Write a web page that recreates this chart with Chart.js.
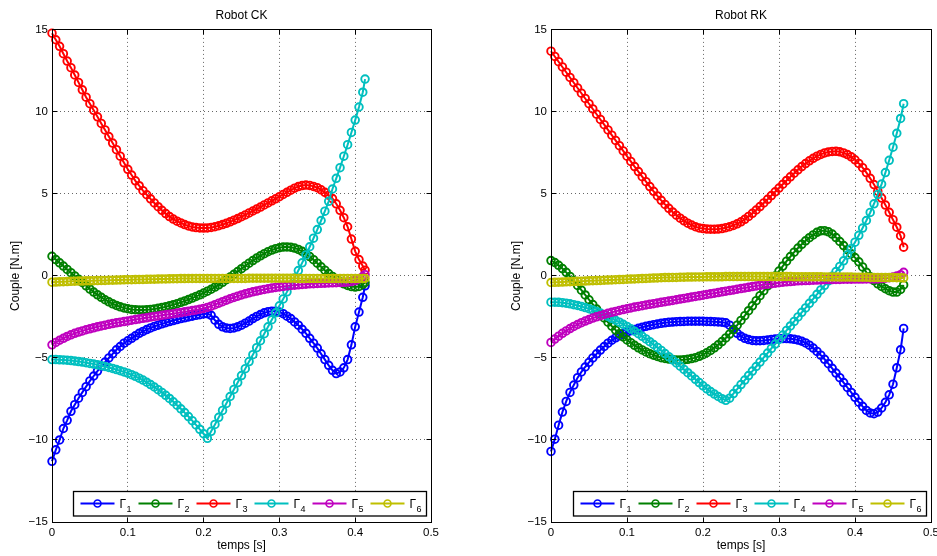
<!DOCTYPE html>
<html>
<head>
<meta charset="utf-8">
<script src="https://cdn.jsdelivr.net/npm/chart.js@4.4.1/dist/chart.umd.min.js"></script>
<style>
  html, body { margin: 0; padding: 0; background: #fff; }
  #wrap { position: relative; width: 937px; height: 556px; overflow: hidden; }
  #ck { position: absolute; left: 0; top: 0; }
  #rk { position: absolute; left: 501px; top: 0; }
</style>
</head>
<body>
<div id="wrap">
  <canvas id="ck" width="468" height="556"></canvas>
  <canvas id="rk" width="436" height="556"></canvas>
</div>
<script>
// Couples articulaires, robot CK (gauche) et robot RK (droite)

const legendLabels = ['Γ1', 'Γ2', 'Γ3', 'Γ4', 'Γ5', 'Γ6'];
const xTickValues = [0, 0.1, 0.2, 0.3, 0.4, 0.5];
const xTickLabels = ['0', '0.1', '0.2', '0.3', '0.4', '0.5'];
const yTickValues = [-15, -10, -5, 0, 5, 10, 15];
const yTickLabels = ['\u221215', '\u221210', '\u22125', '0', '5', '10', '15'];

// --- Robot CK ---
const timeCK = [
  0, 0.005, 0.01, 0.015, 0.02, 0.025, 0.03, 0.035, 0.04, 0.045,
  0.05, 0.055, 0.06, 0.065, 0.07, 0.075, 0.08, 0.085, 0.09, 0.095,
  0.1, 0.105, 0.11, 0.115, 0.12, 0.125, 0.13, 0.135, 0.14, 0.145,
  0.15, 0.155, 0.16, 0.165, 0.17, 0.175, 0.18, 0.185, 0.19, 0.195,
  0.2, 0.205, 0.21, 0.215, 0.22, 0.225, 0.23, 0.235, 0.24, 0.245,
  0.25, 0.255, 0.26, 0.265, 0.27, 0.275, 0.28, 0.285, 0.29, 0.295,
  0.3, 0.305, 0.31, 0.315, 0.32, 0.325, 0.33, 0.335, 0.34, 0.345,
  0.35, 0.355, 0.36, 0.365, 0.37, 0.375, 0.38, 0.385, 0.39, 0.395,
  0.4, 0.405, 0.41, 0.413
];
const gamma1CK = [
  -11.3, -10.6, -10.0, -9.3, -8.8, -8.25, -7.85, -7.45, -7.1, -6.75,
  -6.4, -6.1, -5.8, -5.5, -5.25, -5.0, -4.75, -4.5, -4.3, -4.1,
  -3.95, -3.8, -3.65, -3.5, -3.38, -3.27, -3.17, -3.08, -3.0, -2.92,
  -2.85, -2.78, -2.72, -2.66, -2.6, -2.55, -2.5, -2.45, -2.4, -2.36,
  -2.32, -2.3, -2.4, -2.7, -2.95, -3.1, -3.18, -3.2, -3.17, -3.1,
  -3.0, -2.88, -2.75, -2.6, -2.47, -2.35, -2.25, -2.18, -2.15, -2.15,
  -2.2, -2.3, -2.45, -2.6, -2.8, -3.0, -3.25, -3.5, -3.8, -4.1,
  -4.4, -4.75, -5.1, -5.45, -5.75, -5.95, -5.85, -5.6, -5.1, -4.2,
  -3.1, -2.2, -1.3, -0.6
];
const gamma2CK = [
  1.2, 1.0, 0.8, 0.6, 0.4, 0.2, 0.0, -0.2, -0.4, -0.6,
  -0.8, -0.98, -1.15, -1.3, -1.45, -1.58, -1.7, -1.8, -1.88, -1.95,
  -2.0, -2.04, -2.06, -2.07, -2.07, -2.06, -2.04, -2.01, -1.97, -1.93,
  -1.88, -1.82, -1.76, -1.69, -1.61, -1.53, -1.44, -1.35, -1.25, -1.15,
  -1.04, -0.93, -0.81, -0.68, -0.54, -0.39, -0.23, -0.07, 0.1, 0.27,
  0.44, 0.61, 0.78, 0.94, 1.09, 1.23, 1.36, 1.48, 1.58, 1.66,
  1.72, 1.76, 1.77, 1.75, 1.7, 1.62, 1.5, 1.35, 1.18, 0.99,
  0.78, 0.56, 0.35, 0.15, -0.03, -0.2, -0.35, -0.48, -0.58, -0.65,
  -0.68, -0.64, -0.52, -0.4
];
const gamma3CK = [
  14.8, 14.4, 14.0, 13.55, 13.1, 12.7, 12.25, 11.8, 11.35, 10.9,
  10.5, 10.1, 9.7, 9.3, 8.9, 8.5, 8.1, 7.7, 7.3, 6.9,
  6.5, 6.15, 5.8, 5.5, 5.2, 4.95, 4.7, 4.45, 4.22, 4.0,
  3.8, 3.62, 3.47, 3.34, 3.23, 3.13, 3.05, 2.99, 2.95, 2.93,
  2.92, 2.93, 2.96, 3.0, 3.06, 3.13, 3.21, 3.3, 3.4, 3.5,
  3.61, 3.72, 3.84, 3.96, 4.08, 4.2, 4.33, 4.45, 4.58, 4.7,
  4.83, 4.97, 5.1, 5.23, 5.35, 5.45, 5.51, 5.54, 5.52, 5.46,
  5.38, 5.25, 5.1, 4.92, 4.72, 4.4, 4.0, 3.55, 3.0, 2.25,
  1.5, 1.0, 0.6, 0.35
];
const gamma4CK = [
  -5.1, -5.1, -5.11, -5.12, -5.14, -5.16, -5.19, -5.22, -5.25, -5.29,
  -5.33, -5.37, -5.42, -5.47, -5.52, -5.58, -5.64, -5.71, -5.78, -5.85,
  -5.93, -6.02, -6.12, -6.23, -6.35, -6.48, -6.62, -6.77, -6.93, -7.1,
  -7.28, -7.47, -7.67, -7.88, -8.1, -8.33, -8.57, -8.82, -9.08, -9.35,
  -9.62, -9.9, -9.47, -9.05, -8.62, -8.2, -7.77, -7.35, -6.92, -6.5,
  -6.07, -5.65, -5.22, -4.8, -4.37, -3.95, -3.52, -3.1, -2.67, -2.25,
  -1.82, -1.4, -0.97, -0.55, -0.12, 0.33, 0.8, 1.28, 1.78, 2.3,
  2.83, 3.38, 3.95, 4.55, 5.3, 5.95, 6.6, 7.3, 8.0, 8.75,
  9.5, 10.3, 11.2, 12.0
];
const gamma5CK = [
  -4.2, -4.05, -3.92, -3.8, -3.69, -3.59, -3.5, -3.42, -3.35, -3.28,
  -3.22, -3.16, -3.1, -3.05, -3.0, -2.95, -2.9, -2.86, -2.82, -2.78,
  -2.74, -2.7, -2.66, -2.62, -2.58, -2.55, -2.51, -2.47, -2.44, -2.4,
  -2.37, -2.33, -2.3, -2.26, -2.23, -2.19, -2.15, -2.11, -2.07, -2.03,
  -1.98, -1.92, -1.84, -1.75, -1.66, -1.57, -1.48, -1.39, -1.31, -1.23,
  -1.16, -1.09, -1.03, -0.97, -0.92, -0.87, -0.82, -0.78, -0.74, -0.7,
  -0.67, -0.64, -0.61, -0.58, -0.56, -0.54, -0.52, -0.5, -0.48, -0.47,
  -0.46, -0.45, -0.44, -0.43, -0.42, -0.41, -0.4, -0.39, -0.37, -0.34,
  -0.28, -0.18, -0.04, 0.08
];
const gamma6CK = [
  -0.38, -0.37, -0.36, -0.35, -0.34, -0.33, -0.32, -0.315, -0.31, -0.3,
  -0.295, -0.29, -0.28, -0.275, -0.27, -0.26, -0.255, -0.25, -0.24, -0.235,
  -0.23, -0.225, -0.22, -0.215, -0.21, -0.205, -0.2, -0.195, -0.19, -0.185,
  -0.18, -0.175, -0.17, -0.165, -0.16, -0.16, -0.155, -0.155, -0.15, -0.15,
  -0.15, -0.15, -0.15, -0.15, -0.15, -0.15, -0.15, -0.15, -0.15, -0.15,
  -0.15, -0.15, -0.14, -0.14, -0.14, -0.14, -0.14, -0.14, -0.14, -0.14,
  -0.14, -0.14, -0.14, -0.14, -0.14, -0.15, -0.15, -0.15, -0.15, -0.15,
  -0.15, -0.15, -0.15, -0.15, -0.15, -0.15, -0.15, -0.15, -0.15, -0.15,
  -0.15, -0.15, -0.15, -0.15
];

// --- Robot RK ---
const timeRK = [
  0, 0.005, 0.01, 0.015, 0.02, 0.025, 0.03, 0.035, 0.04, 0.045,
  0.05, 0.055, 0.06, 0.065, 0.07, 0.075, 0.08, 0.085, 0.09, 0.095,
  0.1, 0.105, 0.11, 0.115, 0.12, 0.125, 0.13, 0.135, 0.14, 0.145,
  0.15, 0.155, 0.16, 0.165, 0.17, 0.175, 0.18, 0.185, 0.19, 0.195,
  0.2, 0.205, 0.21, 0.215, 0.22, 0.225, 0.23, 0.235, 0.24, 0.245,
  0.25, 0.255, 0.26, 0.265, 0.27, 0.275, 0.28, 0.285, 0.29, 0.295,
  0.3, 0.305, 0.31, 0.315, 0.32, 0.325, 0.33, 0.335, 0.34, 0.345,
  0.35, 0.355, 0.36, 0.365, 0.37, 0.375, 0.38, 0.385, 0.39, 0.395,
  0.4, 0.405, 0.41, 0.415, 0.42, 0.425, 0.43, 0.435, 0.44, 0.445,
  0.45, 0.455, 0.46, 0.464
];
const gamma1RK = [
  -10.7, -9.95, -9.1, -8.3, -7.65, -7.1, -6.65, -6.2, -5.85, -5.55,
  -5.27, -5.0, -4.75, -4.52, -4.3, -4.1, -3.92, -3.77, -3.64, -3.53,
  -3.43, -3.34, -3.26, -3.19, -3.13, -3.07, -3.02, -2.97, -2.93, -2.89,
  -2.86, -2.83, -2.81, -2.79, -2.78, -2.77, -2.76, -2.76, -2.76, -2.76,
  -2.76, -2.77, -2.78, -2.79, -2.8, -2.82, -2.86, -3.0, -3.25, -3.5,
  -3.68, -3.8, -3.88, -3.93, -3.95, -3.95, -3.93, -3.9, -3.87, -3.85,
  -3.83, -3.82, -3.82, -3.83, -3.86, -3.91, -3.98, -4.08, -4.22, -4.4,
  -4.6, -4.83, -5.08, -5.35, -5.63, -5.92, -6.2, -6.5, -6.8, -7.1,
  -7.4, -7.7, -7.95, -8.2, -8.35, -8.4, -8.3, -8.05, -7.7, -7.25,
  -6.6, -5.6, -4.5, -3.2
];
const gamma2RK = [
  0.94, 0.82, 0.65, 0.45, 0.22, -0.03, -0.3, -0.58, -0.87, -1.16,
  -1.45, -1.74, -2.02, -2.3, -2.56, -2.82, -3.06, -3.3, -3.52, -3.72,
  -3.9, -4.07, -4.23, -4.38, -4.51, -4.63, -4.74, -4.83, -4.91, -4.98,
  -5.03, -5.07, -5.1, -5.12, -5.12, -5.11, -5.08, -5.04, -4.98, -4.9,
  -4.8, -4.68, -4.54, -4.38, -4.2, -4.0, -3.78, -3.54, -3.28, -3.0,
  -2.71, -2.42, -2.12, -1.82, -1.51, -1.2, -0.9, -0.6, -0.3, 0.0,
  0.3, 0.6, 0.9, 1.18, 1.45, 1.7, 1.93, 2.14, 2.33, 2.5,
  2.66, 2.75, 2.76, 2.69, 2.55, 2.34, 2.1, 1.85, 1.6, 1.36,
  1.12, 0.86, 0.55, 0.22, -0.05, -0.28, -0.48, -0.64, -0.78, -0.9,
  -0.98, -0.98, -0.82, -0.55
];
const gamma3RK = [
  13.7, 13.38, 13.06, 12.74, 12.42, 12.1, 11.78, 11.46, 11.14, 10.82,
  10.5, 10.18, 9.86, 9.54, 9.22, 8.9, 8.58, 8.26, 7.94, 7.62,
  7.3, 6.98, 6.67, 6.36, 6.05, 5.75, 5.45, 5.16, 4.88, 4.61,
  4.36, 4.12, 3.9, 3.7, 3.52, 3.36, 3.22, 3.1, 3.0, 2.93,
  2.89, 2.86, 2.85, 2.85, 2.86, 2.89, 2.94, 3.0, 3.08, 3.18,
  3.3, 3.45, 3.63, 3.82, 4.02, 4.23, 4.45, 4.67, 4.9, 5.13,
  5.36, 5.59, 5.82, 6.04, 6.26, 6.47, 6.67, 6.85, 7.02, 7.17,
  7.3, 7.41, 7.5, 7.56, 7.59, 7.6, 7.57, 7.5, 7.4, 7.26,
  7.08, 6.86, 6.6, 6.3, 5.95, 5.57, 5.17, 4.75, 4.32, 3.88,
  3.43, 2.97, 2.45, 1.75
];
const gamma4RK = [
  -1.6, -1.6, -1.61, -1.63, -1.66, -1.7, -1.75, -1.8, -1.86, -1.93,
  -2.0, -2.08, -2.17, -2.26, -2.36, -2.47, -2.58, -2.7, -2.82, -2.95,
  -3.08, -3.22, -3.37, -3.52, -3.68, -3.84, -4.01, -4.18, -4.36, -4.54,
  -4.73, -4.92, -5.11, -5.3, -5.5, -5.7, -5.9, -6.1, -6.3, -6.5,
  -6.7, -6.88, -7.05, -7.2, -7.35, -7.48, -7.58, -7.45, -7.17, -6.9,
  -6.62, -6.35, -6.07, -5.8, -5.52, -5.25, -4.97, -4.7, -4.42, -4.15,
  -3.87, -3.6, -3.32, -3.05, -2.77, -2.5, -2.22, -1.95, -1.67, -1.4,
  -1.12, -0.85, -0.57, -0.3, -0.02, 0.27, 0.58, 0.92, 1.28, 1.66,
  2.06, 2.48, 2.92, 3.38, 3.87, 4.4, 4.97, 5.6, 6.3, 7.05,
  7.85, 8.7, 9.6, 10.5
];
const gamma5RK = [
  -4.05, -3.85, -3.67, -3.5, -3.35, -3.21, -3.08, -2.96, -2.85, -2.75,
  -2.66, -2.57, -2.49, -2.42, -2.35, -2.28, -2.22, -2.16, -2.1, -2.05,
  -2.0, -1.95, -1.9, -1.86, -1.81, -1.77, -1.73, -1.69, -1.65, -1.61,
  -1.57, -1.53, -1.49, -1.45, -1.41, -1.37, -1.33, -1.29, -1.25, -1.21,
  -1.17, -1.13, -1.09, -1.05, -1.01, -0.97, -0.93, -0.89, -0.85, -0.81,
  -0.77, -0.73, -0.69, -0.65, -0.61, -0.57, -0.53, -0.5, -0.47, -0.44,
  -0.41, -0.38, -0.36, -0.34, -0.32, -0.3, -0.29, -0.28, -0.27, -0.26,
  -0.25, -0.24, -0.23, -0.22, -0.22, -0.21, -0.21, -0.2, -0.2, -0.2,
  -0.19, -0.19, -0.19, -0.18, -0.18, -0.18, -0.18, -0.16, -0.14, -0.11,
  -0.07, -0.01, 0.08, 0.22
];
const gamma6RK = [
  -0.4, -0.39, -0.38, -0.37, -0.36, -0.35, -0.34, -0.33, -0.32, -0.31,
  -0.3, -0.29, -0.28, -0.27, -0.26, -0.25, -0.24, -0.23, -0.22, -0.21,
  -0.2, -0.19, -0.18, -0.17, -0.16, -0.15, -0.14, -0.13, -0.12, -0.11,
  -0.1, -0.1, -0.09, -0.09, -0.08, -0.08, -0.07, -0.07, -0.06, -0.06,
  -0.06, -0.05, -0.05, -0.05, -0.05, -0.05, -0.04, -0.04, -0.04, -0.04,
  -0.04, -0.04, -0.04, -0.04, -0.04, -0.04, -0.04, -0.04, -0.04, -0.04,
  -0.04, -0.04, -0.04, -0.04, -0.05, -0.05, -0.05, -0.05, -0.05, -0.05,
  -0.05, -0.05, -0.06, -0.06, -0.06, -0.06, -0.07, -0.07, -0.07, -0.07,
  -0.08, -0.08, -0.08, -0.08, -0.09, -0.09, -0.09, -0.1, -0.1, -0.1,
  -0.1, -0.11, -0.11, -0.12
];

// couleurs MATLAB classiques
const seriesColors = ['#0000ff', '#008000', '#ff0000', '#00bfbf', '#bf00bf', '#bfbf00'];
const fontFamily = '"Liberation Sans", Arial, Helvetica, sans-serif';
Chart.defaults.font.family = fontFamily;
Chart.defaults.color = '#000';

function alignPx(p) {
  return Math.round(p - 0.5) + 0.5;
}

// cadre noir, petites graduations internes et legende dans le coin bas-droit
const matlabAxes = {
  id: 'matlabAxes',
  afterDatasetsDraw(chart) {
    const { ctx, chartArea: a, scales } = chart;
    const L = alignPx(a.left), R = alignPx(a.right), T = alignPx(a.top), B = alignPx(a.bottom);
    ctx.save();
    ctx.strokeStyle = '#000';
    ctx.lineWidth = 1;
    ctx.beginPath();
    scales.x.ticks.forEach(t => {
      const px = alignPx(scales.x.getPixelForValue(t.value));
      ctx.moveTo(px, B); ctx.lineTo(px, B - 5);
      ctx.moveTo(px, T); ctx.lineTo(px, T + 5);
    });
    scales.y.ticks.forEach(t => {
      const py = alignPx(scales.y.getPixelForValue(t.value));
      ctx.moveTo(L, py); ctx.lineTo(L + 5, py);
      ctx.moveTo(R, py); ctx.lineTo(R - 5, py);
    });
    ctx.stroke();
    ctx.strokeRect(L, T, R - L, B - T);

    // legende
    const w = 353, h = 24.5;
    const x0 = Math.round(a.right - 5.5 - w) + 0.5;
    const y0 = Math.round(a.bottom - 6.5 - h) + 0.5;
    ctx.fillStyle = '#fff';
    ctx.fillRect(x0, y0, w, h);
    ctx.lineWidth = 1.3;
    ctx.strokeRect(x0, y0, w, h);
    const ym = y0 + 12;
    chart.data.datasets.forEach((ds, i) => {
      const lx = x0 + 7 + 58 * i;
      ctx.strokeStyle = ds.borderColor;
      ctx.lineWidth = 2;
      ctx.beginPath();
      ctx.moveTo(lx, ym); ctx.lineTo(lx + 34, ym);
      ctx.stroke();
      ctx.lineWidth = 1.6;
      ctx.beginPath();
      ctx.arc(lx + 17, ym, 3.5, 0, Math.PI * 2);
      ctx.stroke();
      const lab = ds.label;
      ctx.fillStyle = '#000';
      ctx.textBaseline = 'alphabetic';
      ctx.textAlign = 'left';
      ctx.font = '12px ' + fontFamily;
      ctx.fillText(lab.charAt(0), lx + 39, ym + 4.5);
      const gw = ctx.measureText(lab.charAt(0)).width;
      ctx.font = '9px ' + fontFamily;
      ctx.fillText(lab.slice(1), lx + 39 + gw + 0.5, ym + 8.5);
    });
    ctx.restore();
  }
};

function makeChart(id, title, times, series, yWidth, padRight) {
  const datasets = series.map((vals, i) => ({
    label: legendLabels[i],
    data: times.map((t, k) => ({ x: t, y: vals[k] })),
    borderColor: seriesColors[i],
    backgroundColor: 'rgba(0,0,0,0)',
    borderWidth: 2,
    pointStyle: 'circle',
    pointRadius: 3.8,
    pointBorderWidth: 1.9,
    pointBorderColor: seriesColors[i],
    pointBackgroundColor: 'rgba(0,0,0,0)',
    tension: 0,
    clip: false,
    order: series.length - i
  }));

  return new Chart(document.getElementById(id), {
    type: 'line',
    data: { datasets },
    plugins: [matlabAxes],
    options: {
      responsive: false,
      animation: false,
      events: [],
      layout: { padding: { left: 0, right: padRight, top: 0, bottom: 0 } },
      plugins: {
        legend: { display: false },
        tooltip: { enabled: false },
        title: {
          display: true,
          text: title,
          fullSize: false,
          color: '#000',
          font: { size: 12, weight: 'normal' },
          padding: { top: 8.5, bottom: 7 }
        }
      },
      scales: {
        x: {
          type: 'linear',
          min: 0,
          max: 0.5,
          afterBuildTicks: s => { s.ticks = xTickValues.map(v => ({ value: v })); },
          afterFit: s => { s.height = 34; s.paddingLeft = 0; s.paddingRight = 0; },
          ticks: {
            autoSkip: false,
            maxRotation: 0,
            padding: 4,
            color: '#000',
            font: { size: 11.5 },
            callback: (v, i) => xTickLabels[i]
          },
          grid: { color: 'rgba(0,0,0,0.6)', lineWidth: 1, drawTicks: false },
          border: { display: false, dash: [1, 3] },
          title: {
            display: true,
            text: 'temps [s]',
            color: '#000',
            font: { size: 12 },
            padding: { top: 0, bottom: 3 }
          }
        },
        y: {
          type: 'linear',
          min: -15,
          max: 15,
          afterBuildTicks: s => { s.ticks = yTickValues.map(v => ({ value: v })); },
          afterFit: s => { s.width = yWidth; s.paddingTop = 0; s.paddingBottom = 0; },
          ticks: {
            padding: 4,
            color: '#000',
            font: { size: 11.5 },
            callback: (v, i) => yTickLabels[i]
          },
          grid: { color: 'rgba(0,0,0,0.6)', lineWidth: 1, drawTicks: false },
          border: { display: false, dash: [1, 3] },
          title: {
            display: true,
            text: 'Couple [N.m]',
            color: '#000',
            font: { size: 12 },
            padding: { top: 8, bottom: 0 }
          }
        }
      }
    }
  });
}

makeChart('ck', 'Robot CK', timeCK,
  [gamma1CK, gamma2CK, gamma3CK, gamma4CK, gamma5CK, gamma6CK], 52, 37);
makeChart('rk', 'Robot RK', timeRK,
  [gamma1RK, gamma2RK, gamma3RK, gamma4RK, gamma5RK, gamma6RK], 50, 6);
</script>
</body>
</html>
